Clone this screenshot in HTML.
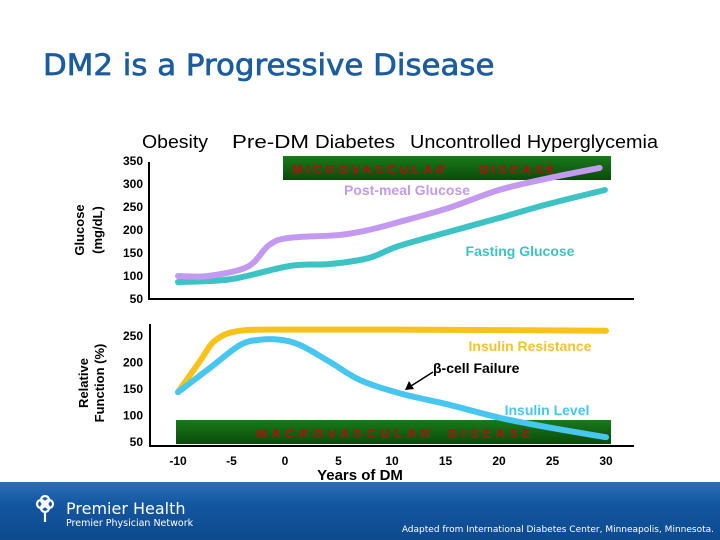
<!DOCTYPE html>
<html><head><meta charset="utf-8">
<style>
html,body{margin:0;padding:0;}
body{width:720px;height:540px;background:#fff;position:relative;overflow:hidden;font-family:"Liberation Sans",Arial,sans-serif;}
#title{position:absolute;left:43px;top:48px;font-family:"DejaVu Sans",sans-serif;font-size:29px;color:#1b5d9e;-webkit-text-stroke:0.7px #1b5d9e;white-space:nowrap;transform-origin:left top;}
#footer{position:absolute;left:0;top:482px;width:720px;height:58px;background:linear-gradient(180deg,#2a6fb8 0%,#1356a0 40%,#0d4a8e 100%);}
</style></head><body>
<div id="title">DM2 is a Progressive Disease</div>
<svg id="chart" width="720" height="482" style="position:absolute;left:0;top:0"></svg>
<div id="footer">
  <svg width="720" height="58" style="position:absolute;left:0;top:0">
    <g fill="none" stroke="#fff" stroke-width="2.2">
      <circle cx="41" cy="22" r="4"/><circle cx="49" cy="22" r="4"/><circle cx="45" cy="18" r="4"/><circle cx="45" cy="26" r="4"/>
      <line x1="45" y1="30" x2="45" y2="40"/>
    </g>
    <text x="66" y="32" fill="#fff" font-size="16" font-family="DejaVu Sans,sans-serif">Premier Health</text>
    <text x="66" y="44" fill="#fff" font-size="9.5" font-family="DejaVu Sans,sans-serif">Premier Physician Network</text>
    <text x="714" y="50" fill="#fff" font-size="9" text-anchor="end" font-family="DejaVu Sans,sans-serif">Adapted from International Diabetes Center, Minneapolis, Minnesota.</text>
  </svg>
</div>
<script>
const years = [-10,-5,0,5,10,15,20,25,30];
const glucoseTicks = [350,300,250,200,150,100,50];
const funcTicks = [250,200,150,100,50];
const postYears = [-10,-7.2,-3.5,-1.5,0.4,5,7.8,10.6,15.3,20,24.7,29.4];
const postVals  = [100,100,120,167,183,189,200,217,248,287,313,335];
const fastYears = [-10,-5.1,0.5,4.2,7.8,10.6,15.3,20,24.7,29.9];
const fastVals  = [87,93,122,126,139,165,196,226,257,287];
const resYears = [-10,-7.9,-6.5,-4.2,0.5,10.8,30];
const resVals  = [144,204,242,260,262,262,260];
const insYears = [-10,-7,-4.2,-2.3,-0.5,1.4,4.2,7,10.7,15.4,20,24.8,30];
const insVals  = [144,190,233,243,243,233,201,167,142,120,96,77,59];

const ttl=document.getElementById('title');
ttl.style.transform='scaleX('+(452/ttl.offsetWidth)+')';

const NS="http://www.w3.org/2000/svg";
const svg=document.getElementById('chart');
function xS(y){return 178+(y+10)*10.7;}
function yTop(v){return 161+(350-v)*0.46;}
function yBot(v){return 336+(250-v)*0.53;}
function mk(tag,attrs,parent){const e=document.createElementNS(NS,tag);for(const k in attrs)e.setAttribute(k,attrs[k]);(parent||svg).appendChild(e);return e;}
function txt(x,y,s,attrs){const t=mk('text',Object.assign({x:x,y:y},attrs));t.textContent=s;return t;}
function smooth(pts){let d='M'+pts[0][0]+','+pts[0][1];for(let i=0;i<pts.length-1;i++){const p0=pts[i-1]||pts[i],p1=pts[i],p2=pts[i+1],p3=pts[i+2]||p2;const c1=[p1[0]+(p2[0]-p0[0])/6,p1[1]+(p2[1]-p0[1])/6],c2=[p2[0]-(p3[0]-p1[0])/6,p2[1]-(p3[1]-p1[1])/6];d+=' C'+c1+' '+c2+' '+p2;}return d;}

const g1=mk('linearGradient',{id:'gg',x1:0,y1:0,x2:0,y2:1},mk('defs',{}));
mk('stop',{offset:'0','stop-color':'#1a7a1a'},g1);mk('stop',{offset:'1','stop-color':'#0b4a0b'},g1);
let b=mk('rect',{x:283,y:156,width:328,height:24,fill:'url(#gg)'});
let b2=mk('rect',{x:176,y:420,width:435,height:24,fill:'url(#gg)'});
const sp={fill:'#b01010','font-size':13,'font-weight':'bold',lengthAdjust:'spacing'};
let t=txt(292,174,'MICROVASCULAR',Object.assign({textLength:153},sp));
t=txt(479,174,'DISEASE',Object.assign({textLength:76},sp));
t=txt(256,438,'MACROVASCULAR',Object.assign({textLength:174},sp));
t=txt(448,438,'DISEASE',Object.assign({textLength:83},sp));

let a=mk('path',{d:'M149,162 V299 H634',stroke:'#000','stroke-width':2,fill:'none'});
a=mk('path',{d:'M150,324 V446 H634',stroke:'#000','stroke-width':2,fill:'none'});

glucoseTicks.forEach(v=>{const e=txt(143,yTop(v)+4,String(v),{'font-size':12,'font-weight':'bold','text-anchor':'end'});});
funcTicks.forEach(v=>{const e=txt(143,yBot(v)+4,String(v),{'font-size':12,'font-weight':'bold','text-anchor':'end'});});
years.forEach(v=>{const e=txt(xS(v),465,String(v),{'font-size':12,'font-weight':'bold','text-anchor':'middle'});});

t=txt(0,0,'Glucose',{'font-size':13,'font-weight':'bold','text-anchor':'middle',transform:'translate(84,230) rotate(-90)'});
t=txt(0,0,'(mg/dL)',{'font-size':13,'font-weight':'bold','text-anchor':'middle',transform:'translate(102,230) rotate(-90)'});
t=txt(0,0,'Relative',{'font-size':13,'font-weight':'bold','text-anchor':'middle',transform:'translate(88,383) rotate(-90)'});
t=txt(0,0,'Function (%)',{'font-size':13,'font-weight':'bold','text-anchor':'middle',transform:'translate(104,383) rotate(-90)'});
t=txt(360,480,'Years of DM',{'font-size':15,'font-weight':'bold','text-anchor':'middle'});

[['Obesity',142,66,'phase-obesity'],['Pre-DM',232,77,'phase-prediabetes'],['Diabetes',315,80,'phase-diabetes'],['Uncontrolled Hyperglycemia',410,248,'phase-uncontrolled']].forEach(p=>{const e=txt(p[1],148,p[0],{'font-size':18,textLength:p[2],lengthAdjust:'spacingAndGlyphs'});});

function line(xs,vs,ys,color,name){const pts=xs.map((x,i)=>[xS(x),ys(vs[i])]);const e=mk('path',{d:smooth(pts),stroke:color,'stroke-width':6,fill:'none','stroke-linecap':'round','stroke-linejoin':'round'});}
line(fastYears,fastVals,yTop,'#3ec3c4','fasting-glucose-line');
line(postYears,postVals,yTop,'#c39af0','post-meal-glucose-line');
line(resYears,resVals,yBot,'#f7c31b','insulin-resistance-line');
line(insYears,insVals,yBot,'#47c6f0','insulin-level-line');

t=txt(407,195,'Post-meal Glucose',{'font-size':14,'font-weight':'bold',fill:'#c39af0','text-anchor':'middle'});
t=txt(520,256,'Fasting Glucose',{'font-size':14,'font-weight':'bold',fill:'#3ec3c4','text-anchor':'middle'});
t=txt(530,351,'Insulin Resistance',{'font-size':14,'font-weight':'bold',fill:'#f2c331','text-anchor':'middle'});
t=txt(547,415,'Insulin Level',{'font-size':14,'font-weight':'bold',fill:'#47c6f0','text-anchor':'middle'});
t=txt(433,373,'β-cell Failure',{'font-size':14,'font-weight':'bold'});
a=mk('line',{x1:433,y1:372,x2:411,y2:386,stroke:'#000','stroke-width':1.5});
a=mk('path',{d:'M405,390 L409,381 L414,389 Z',fill:'#000'});
</script>
</body></html>
